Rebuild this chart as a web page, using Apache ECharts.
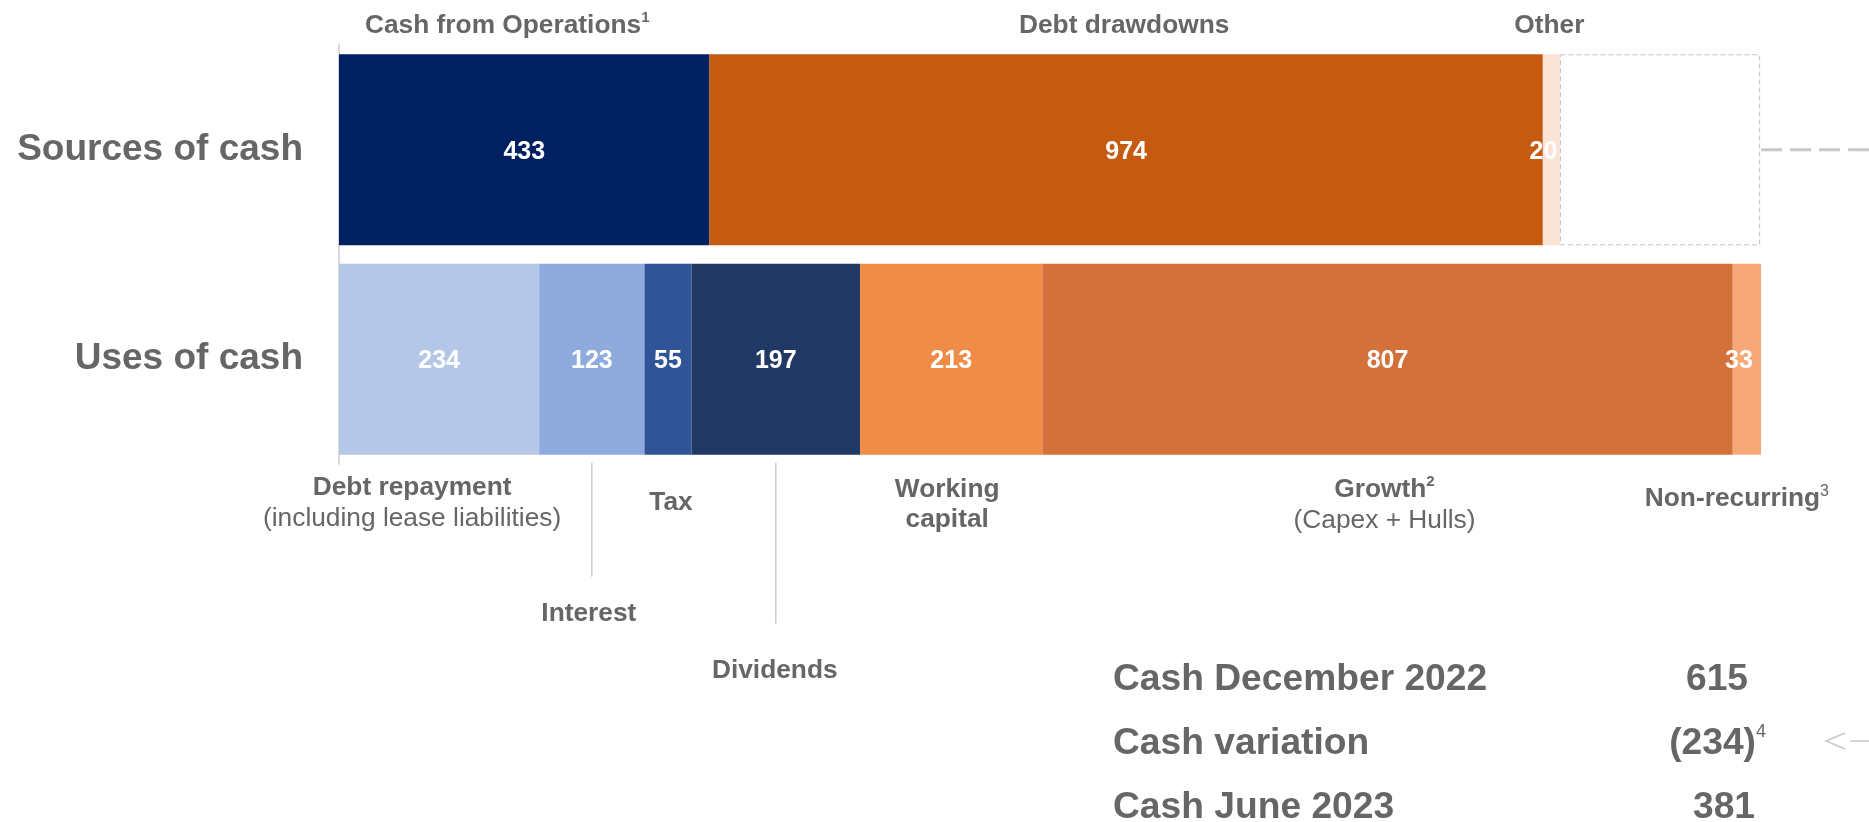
<!DOCTYPE html>
<html>
<head>
<meta charset="utf-8">
<script src="https://cdn.jsdelivr.net/npm/echarts@6/dist/echarts.min.js"></script>
<style>
  html, body { margin: 0; padding: 0; background: #ffffff; }
  #chart { width: 1869px; height: 822px; }
</style>
</head>
<body>
<div id="chart"></div>
<script>
// ---- data ----
const categories = ['Sources of cash', 'Uses of cash'];

const sourceNames = ['Cash from Operations', 'Debt drawdowns', 'Other'];
const sourceNotes = ['1', '', ''];
const sourceValues = [433, 974, 20];

const useNames = ['Debt repayment', 'Interest', 'Tax', 'Dividends', 'Working\ncapital', 'Growth', 'Non-recurring'];
const useDetails = ['(including lease liabilities)', '', '', '', '', '(Capex + Hulls)', ''];
const useNotes = ['', '', '', '', '', '2', '3'];
const useValues = [234, 123, 55, 197, 213, 807, 33];

const cashVariation = 234;

const summaryLabels = ['Cash December 2022', 'Cash variation', 'Cash June 2023'];
const summaryValues = ['615', '(234)', '381'];
const summaryNotes = ['', '4', ''];

// ---- styling ----
const FONT = "'Liberation Sans', Arial, Helvetica, sans-serif";
const GREY = '#666666';
const BAR = 191;
const TOP_DY = 1;
const BOTTOM_DY = 3;
const sourceColors = ['#002060', '#C55A11', '#FBE3D6'];
const useColors = ['#B4C7E7', '#8FAADC', '#2F5597', '#203864', '#EE8C48', '#D4703A', '#F7A878'];
const sourceLabelShift = [-17, -2, -2];
const valueLabelShift = { 'Other': -8, 'Non-recurring': -8 };
// dx: horizontal shift of the caption, dy: centre of the first caption line below the bar,
// leader: [start, end] of a thin connector below the bar
const useLabelLayout = [
  { dx: -27, dy: 30 },
  { dx: -3, dy: 156, leader: [8, 122] },
  { dx: 3, dy: 45 },
  { dx: -1, dy: 213, leader: [8, 169] },
  { dx: -4, dy: 32 },
  { dx: -3, dy: 32 },
  { dx: -10, dy: 41 }
];

const rich = {
  b: { fontFamily: FONT, fontSize: 26.3, fontWeight: 'bold', fill: GREY, lineHeight: 30 },
  r: { fontFamily: FONT, fontSize: 26.3, fontWeight: 'normal', fill: GREY, lineHeight: 32 },
  sb: { fontFamily: FONT, fontSize: 15, fontWeight: 'bold', fill: GREY, lineHeight: 22, verticalAlign: 'top' },
  sr: { fontFamily: FONT, fontSize: 16, fontWeight: 'normal', fill: GREY, lineHeight: 22, verticalAlign: 'top' }
};

function caption(name, note, detail, noteStyle) {
  const lines = name.split('\n').map(function (l) { return '{b|' + l + '}'; });
  if (note) lines[lines.length - 1] += '{' + noteStyle + '|' + note + '}';
  if (detail) lines.push('{r|' + detail + '}');
  return lines.join('\n');
}

function valueLabel(name) {
  return {
    show: true, position: 'inside', color: '#ffffff', fontFamily: FONT, fontWeight: 'bold', fontSize: 25,
    offset: [valueLabelShift[name] || 0, 2]
  };
}

// ---- stacked bar series ----
const series = [];
let cum = 0;
const notes = [];
sourceValues.forEach(function (v, i) {
  series.push({
    name: sourceNames[i], type: 'bar', stack: 'cash', barWidth: BAR,
    data: [v, '-'],
    itemStyle: { color: sourceColors[i] },
    label: valueLabel(sourceNames[i])
  });
  notes.push({ value: [cum + v / 2, 0], side: 'top', dx: sourceLabelShift[i],
    text: caption(sourceNames[i], sourceNotes[i], '', 'sb') });
  cum += v;
});
const sourceTotal = cum;
series.push({
  name: 'Cash variation', type: 'bar', stack: 'cash', barWidth: BAR,
  data: [cashVariation, '-'],
  itemStyle: { color: '#ffffff', borderColor: '#c3c3c3', borderWidth: 1, borderType: [5, 3] },
  label: { show: false }
});
notes.push({ value: [sourceTotal + cashVariation, 0], side: 'link' });

cum = 0;
useValues.forEach(function (v, i) {
  series.push({
    name: useNames[i], type: 'bar', stack: 'cash', barWidth: BAR,
    data: ['-', v],
    itemStyle: { color: useColors[i] },
    label: valueLabel(useNames[i])
  });
  const lay = useLabelLayout[i];
  notes.push({ value: [cum + v / 2, 1], side: 'bottom', dx: lay.dx, dy: lay.dy, leader: lay.leader,
    text: caption(useNames[i], useNotes[i], useDetails[i], i === 6 ? 'sr' : 'sb') });
  cum += v;
});
const useTotal = cum;

// captions, leaders and the connector drawn from the same value scale as the bars
series.push({
  type: 'custom', coordinateSystem: 'cartesian2d', clip: false, silent: true, z: 5,
  data: notes.map(function (n) { return n.value; }),
  renderItem: function (params, api) {
    const n = notes[params.dataIndex];
    const c = api.coord([api.value(0), api.value(1)]);
    const top = c[1] - BAR / 2;
    const bottom = c[1] + BAR / 2;
    if (n.side === 'top') {
      return { type: 'text', x: c[0] + n.dx, y: top - 30 + TOP_DY,
        style: { text: n.text, rich: rich, align: 'center', verticalAlign: 'middle' } };
    }
    if (n.side === 'link') {
      return { type: 'line', shape: { x1: c[0] + 1, y1: c[1], x2: api.getWidth(), y2: c[1] },
        style: { stroke: '#c8c8c8', lineWidth: 3, lineDash: [21, 8] } };
    }
    const children = [{ type: 'text', x: c[0] + n.dx, y: bottom + n.dy - 15 + BOTTOM_DY,
      style: { text: n.text, rich: rich, align: 'center', verticalAlign: 'top' } }];
    if (n.leader) {
      children.push({ type: 'line',
        shape: { x1: c[0], y1: bottom + n.leader[0], x2: c[0], y2: bottom + n.leader[1] },
        style: { stroke: '#cfcfcf', lineWidth: 1.5 } });
    }
    return { type: 'group', children: children };
  }
});

// ---- cash summary block ----
const summaryLeft = 1113;
const summaryRows = [680, 744, 808];
const summaryRight = [1748, 1766, 1755];
const graphic = [];
summaryLabels.forEach(function (t, i) {
  graphic.push({ type: 'text', x: summaryLeft, y: summaryRows[i], silent: true,
    style: { text: t, fontFamily: FONT, fontSize: 37.2, fontWeight: 'bold', fill: GREY,
      align: 'left', verticalAlign: 'middle' } });
  graphic.push({ type: 'text', x: summaryRight[i], y: summaryRows[i], silent: true,
    style: { text: '{v|' + summaryValues[i] + '}' + (summaryNotes[i] ? '{n|' + summaryNotes[i] + '}' : ''),
      align: 'right', verticalAlign: 'middle',
      rich: {
        v: { fontFamily: FONT, fontSize: 37.2, fontWeight: 'bold', fill: GREY, lineHeight: 42 },
        n: { fontFamily: FONT, fontSize: 18, fontWeight: 'normal', fill: GREY, lineHeight: 28, verticalAlign: 'top' }
      } } });
});
graphic.push({ type: 'polyline', silent: true,
  shape: { points: [[1845, 733], [1826, 741], [1845, 749]] },
  style: { stroke: '#c8c8c8', lineWidth: 1.5, fill: null } });
graphic.push({ type: 'line', silent: true,
  shape: { x1: 1850, y1: 741, x2: 1869, y2: 741 },
  style: { stroke: '#c8c8c8', lineWidth: 1.5 } });

const chart = echarts.init(document.getElementById('chart'), null, { renderer: 'canvas' });
chart.setOption({
  animation: false,
  backgroundColor: '#ffffff',
  grid: { left: 339, top: 45, height: 419, width: 1422 },
  xAxis: { type: 'value', min: 0, max: useTotal, show: false, splitLine: { show: false } },
  yAxis: {
    type: 'category', data: categories, inverse: true,
    axisLine: { show: true, lineStyle: { color: '#d9d9d9', width: 2 } },
    axisTick: { show: false },
    axisLabel: { fontFamily: FONT, fontSize: 37, fontWeight: 'bold', color: GREY, margin: 36,
      padding: [8, 0, 0, 0] }
  },
  series: series,
  graphic: graphic
});
</script>
</body>
</html>
